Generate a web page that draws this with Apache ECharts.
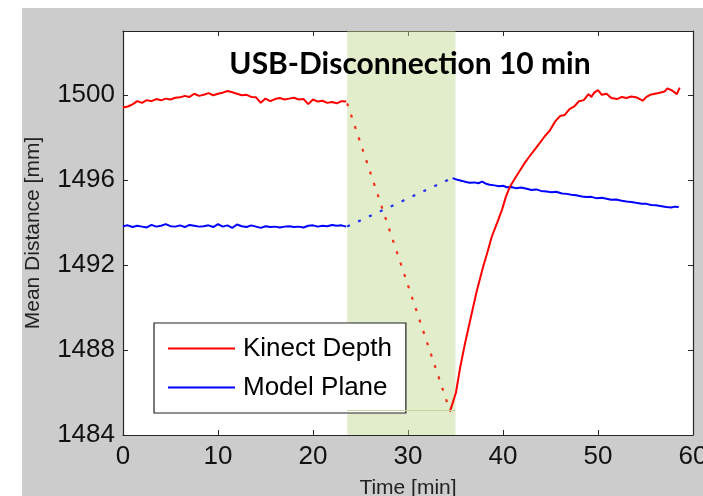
<!DOCTYPE html>
<html>
<head>
<meta charset="utf-8">
<script src="https://cdn.jsdelivr.net/npm/echarts@6/dist/echarts.min.js"></script>
<style>
  html, body { margin: 0; padding: 0; background: #fff; }
  #chart { width: 703px; height: 496px; }
</style>
</head>
<body>
<div id="chart"></div>
<script>
// [time in min, mean distance in mm]
const kinectBefore = [
  [0, 1499.40], [0.5, 1499.45], [1, 1499.55], [1.5, 1499.70], [2, 1499.62], [2.5, 1499.75],
  [3, 1499.70], [3.5, 1499.80], [4, 1499.74], [4.5, 1499.82], [5, 1499.78], [5.5, 1499.86],
  [6, 1499.88], [6.5, 1499.95], [7, 1499.90], [7.5, 1500.05], [8, 1499.95], [8.5, 1500.00],
  [9, 1500.08], [9.5, 1499.98], [10, 1500.05], [10.5, 1500.10], [11, 1500.18], [11.5, 1500.12],
  [12, 1500.05], [12.5, 1499.98], [13, 1500.00], [13.5, 1499.90], [14, 1499.88], [14.5, 1499.62],
  [15, 1499.82], [15.5, 1499.70], [16, 1499.80], [16.5, 1499.85], [17, 1499.78], [17.5, 1499.82],
  [18, 1499.86], [18.5, 1499.78], [19, 1499.80], [19.5, 1499.56], [20, 1499.78], [20.5, 1499.68],
  [21, 1499.72], [21.5, 1499.62], [22, 1499.66], [22.5, 1499.60], [23, 1499.70], [23.5, 1499.68]
];
const kinectGap = [[23.6, 1499.60], [34.4, 1485.15]];
const kinectAfter = [
  [34.4, 1485.10], [34.7, 1485.50], [35.05, 1486.00], [35.5, 1487.20], [36.0, 1488.30],
  [36.6, 1489.50], [37.2, 1490.70], [37.9, 1491.90], [38.3, 1492.50], [38.8, 1493.30],
  [39.4, 1494.00], [39.9, 1494.60], [40.3, 1495.20], [40.7, 1495.65], [41.3, 1496.10],
  [41.8, 1496.45], [42.3, 1496.80], [42.7, 1497.05], [43.3, 1497.40], [43.9, 1497.75],
  [44.4, 1498.05], [44.9, 1498.30], [45.5, 1498.75], [46.0, 1499.00], [46.5, 1499.05],
  [47.0, 1499.33], [47.5, 1499.45], [48.0, 1499.70], [48.5, 1499.75], [49.0, 1500.03],
  [49.3, 1499.90], [49.6, 1500.10], [50.0, 1500.22], [50.4, 1500.00], [50.9, 1500.05],
  [51.4, 1499.85], [52.0, 1499.80], [52.5, 1499.90], [53.0, 1499.85], [53.5, 1499.92],
  [54.1, 1499.87], [54.7, 1499.72], [55.1, 1499.90], [55.5, 1500.00], [56.0, 1500.05],
  [56.5, 1500.10], [57.0, 1500.15], [57.3, 1500.30], [57.8, 1500.20], [58.3, 1500.03],
  [58.6, 1500.34]
];

const planeBefore = [
  [0, 1493.82], [0.5, 1493.86], [1, 1493.78], [1.5, 1493.84], [2, 1493.80], [2.5, 1493.76],
  [3, 1493.88], [3.5, 1493.80], [4, 1493.84], [4.5, 1493.92], [5, 1493.82], [5.5, 1493.80],
  [6, 1493.86], [6.5, 1493.78], [7, 1493.88], [7.5, 1493.84], [8, 1493.80], [8.5, 1493.82],
  [9, 1493.86], [9.5, 1493.78], [10, 1493.92], [10.5, 1493.80], [11, 1493.86], [11.5, 1493.74],
  [12, 1493.90], [12.5, 1493.82], [13, 1493.78], [13.5, 1493.86], [14, 1493.80], [14.5, 1493.74],
  [15, 1493.82], [15.5, 1493.78], [16, 1493.80], [16.5, 1493.76], [17, 1493.80], [17.5, 1493.82],
  [18, 1493.78], [18.5, 1493.80], [19, 1493.76], [19.5, 1493.84], [20, 1493.86], [20.5, 1493.80],
  [21, 1493.84], [21.5, 1493.82], [22, 1493.88], [22.5, 1493.84], [23, 1493.86], [23.5, 1493.80]
];
const planeGap = [[23.6, 1493.80], [34.7, 1496.10]];
const planeAfter = [
  [34.7, 1496.08], [35.2, 1496.00], [35.7, 1495.95], [36.1, 1495.90], [36.5, 1495.86],
  [37.0, 1495.88], [37.4, 1495.84], [37.8, 1495.92], [38.2, 1495.82], [38.6, 1495.77],
  [39.1, 1495.74], [39.6, 1495.70], [40.0, 1495.72], [40.4, 1495.65], [40.9, 1495.66],
  [41.4, 1495.60], [41.9, 1495.64], [42.5, 1495.58], [43.0, 1495.52], [43.5, 1495.55],
  [44.0, 1495.48], [44.6, 1495.45], [45.1, 1495.42], [45.6, 1495.44], [46.2, 1495.36],
  [46.7, 1495.34], [47.2, 1495.30], [47.7, 1495.28], [48.3, 1495.22], [48.8, 1495.19],
  [49.3, 1495.20], [49.8, 1495.14], [50.4, 1495.16], [50.9, 1495.11], [51.4, 1495.06],
  [51.9, 1495.08], [52.5, 1495.02], [53.0, 1494.98], [53.5, 1494.96], [54.0, 1494.92],
  [54.6, 1494.88], [55.1, 1494.87], [55.6, 1494.82], [56.1, 1494.80], [56.7, 1494.76],
  [57.2, 1494.72], [57.7, 1494.70], [58.1, 1494.74], [58.5, 1494.72]
];

const disconnectWindow = [23.6, 35.0];
const gapFloor = 1485.15;
const xTicks = [0, 60, 10];
const yTicks = [1484, 1503, 4];

const chart = echarts.init(document.getElementById('chart'));

const font = 'Liberation Sans, Arial, sans-serif';
const axisColor = '#262626';

chart.setOption({
  backgroundColor: '#fff',
  animation: false,
  graphic: [{
    type: 'rect',
    z: -10,
    shape: { x: 22, y: 8, width: 703, height: 496 },
    style: { fill: '#cccccc' }
  }],
  title: {
    text: 'USB-Disconnection 10 min',
    left: 405,
    top: 44,
    textAlign: 'center',
    textStyle: {
      fontFamily: 'Lato, sans-serif',
      fontWeight: 'bold',
      fontSize: 30,
      color: '#000'
    }
  },
  legend: {
    data: ['Kinect Depth', 'Model Plane'],
    orient: 'vertical',
    left: 154,
    top: 323,
    width: 251,
    padding: [10, 14, 10, 14],
    icon: 'rect',
    itemWidth: 67,
    itemHeight: 2,
    itemGap: 8,
    backgroundColor: '#fff',
    borderColor: '#222',
    borderWidth: 1.2,
    textStyle: { fontFamily: font, fontSize: 26, color: '#000', padding: [0, 0, 0, 3], lineHeight: 31 }
  },
  grid: {
    left: 123,
    top: 31,
    right: 10,
    bottom: 61,
    outerBoundsMode: 'none',
    containLabel: false,
    show: true,
    backgroundColor: '#fff',
    borderWidth: 0
  },
  xAxis: [{
    type: 'value',
    min: xTicks[0],
    max: xTicks[1],
    interval: xTicks[2],
    name: 'Time [min]',
    nameLocation: 'middle',
    nameGap: 43,
    nameTextStyle: { fontFamily: font, fontSize: 21, color: '#222' },
    axisLine: { onZero: false, lineStyle: { color: axisColor, width: 1.2 } },
    axisTick: { inside: true, length: 5, lineStyle: { color: axisColor } },
    axisLabel: { fontFamily: font, fontSize: 26, color: '#111', margin: 9 },
    splitLine: { show: false }
  }, {
    type: 'value',
    position: 'top',
    min: xTicks[0],
    max: xTicks[1],
    interval: xTicks[2],
    axisLine: { onZero: false, lineStyle: { color: axisColor, width: 1.2 } },
    axisTick: { inside: true, length: 5, lineStyle: { color: axisColor } },
    axisLabel: { show: false },
    splitLine: { show: false }
  }],
  yAxis: [{
    type: 'value',
    min: yTicks[0],
    max: yTicks[1],
    interval: yTicks[2],
    name: 'Mean Distance [mm]',
    nameLocation: 'middle',
    nameGap: 79,
    nameTextStyle: { fontFamily: font, fontSize: 21, color: '#222' },
    axisLine: { show: true, onZero: false, lineStyle: { color: axisColor, width: 1.2 } },
    axisTick: { show: true, inside: true, length: 5, lineStyle: { color: axisColor } },
    axisLabel: {
      fontFamily: font, fontSize: 26, color: '#111', margin: 8,
      formatter: v => (v === 1503 ? '' : v)
    },
    splitLine: { show: false }
  }, {
    type: 'value',
    position: 'right',
    min: yTicks[0],
    max: yTicks[1],
    interval: yTicks[2],
    axisLine: { show: true, onZero: false, lineStyle: { color: axisColor, width: 1.2 } },
    axisTick: { show: true, inside: true, length: 5, lineStyle: { color: axisColor } },
    axisLabel: { show: false },
    splitLine: { show: false }
  }],
  series: [{
    name: 'Kinect Depth',
    type: 'line',
    symbol: 'none',
    data: kinectBefore,
    lineStyle: { color: '#ff0000', width: 2 },
    itemStyle: { color: '#ff0000' },
    markArea: {
      silent: true,
      itemStyle: { color: 'rgba(190, 215, 140, 0.45)' },
      data: [[{ xAxis: disconnectWindow[0] }, { xAxis: disconnectWindow[1] }]]
    },
    markLine: {
      silent: true,
      symbol: 'none',
      label: { show: false },
      lineStyle: { color: '#c4d6a0', width: 1, type: 'solid' },
      data: [[
        { coord: [disconnectWindow[0], gapFloor] },
        { coord: [disconnectWindow[1], gapFloor] }
      ]]
    },
    z: 3
  }, {
    name: 'Kinect Depth gap',
    type: 'line',
    symbol: 'none',
    data: kinectGap,
    lineStyle: { color: '#f03018', width: 2.2, type: [3, 9] },
    z: 3
  }, {
    name: 'Kinect Depth after',
    type: 'line',
    symbol: 'none',
    data: kinectAfter,
    lineStyle: { color: '#ff0000', width: 2 },
    z: 4
  }, {
    name: 'Model Plane',
    type: 'line',
    symbol: 'none',
    data: planeBefore,
    lineStyle: { color: '#0000ff', width: 2 },
    itemStyle: { color: '#0000ff' },
    z: 3
  }, {
    name: 'Model Plane gap',
    type: 'line',
    symbol: 'none',
    data: planeGap,
    lineStyle: { color: '#2030f0', width: 2.2, type: [3, 9] },
    z: 3
  }, {
    name: 'Model Plane after',
    type: 'line',
    symbol: 'none',
    data: planeAfter,
    lineStyle: { color: '#0000ff', width: 2 },
    z: 3
  }]
});
</script>
</body>
</html>
